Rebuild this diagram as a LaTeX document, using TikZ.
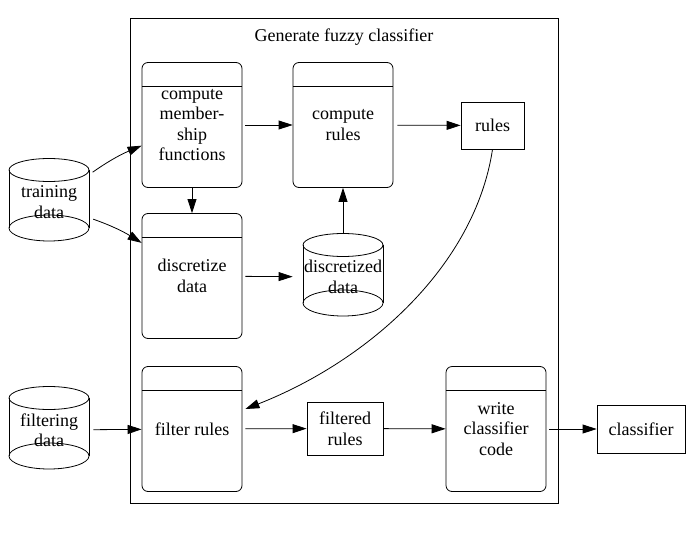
\documentclass[tikz,border=0pt]{standalone}
\usepackage{fontspec}
\setmainfont{Liberation Serif}
\usetikzlibrary{arrows.meta}

\begin{document}
\begin{tikzpicture}[x=1pt,y=-1pt,line width=0.8pt,
  font=\fontsize{18}{20.5}\selectfont,
  proc/.style={draw,rounded corners=6pt,minimum width=100pt,minimum height=125pt,
    align=center,inner sep=0pt,
    path picture={\draw ([yshift=-24pt]path picture bounding box.north west)
      -- ([yshift=-24pt]path picture bounding box.north east);}},
  datbox/.style={draw,align=center,inner sep=0pt},
  store/.style={minimum width=80pt,minimum height=70pt,align=center,inner sep=0pt},
  arr/.style={-{Triangle[length=14pt,width=9pt]}}]
  \useasboundingbox (0,0) rectangle (692,532);

  % Generate fuzzy classifier (frame)
  \draw (130,18) rectangle (558,503);
  \node (title) at (344,37) {Generate fuzzy classifier};

  % Processes
  \node[proc] (memb) at (192,125) {compute\\member-\\ship\\functions};
  \node[proc] (disc) at (192,276) {discretize\\data};
  \node[proc] (crules) at (343,125) {compute\\rules};
  \node[proc] (filter) at (192,429) {filter rules};
  \node[proc] (write) at (496,429) {write\\classifier\\code};

  % Data
  \node[datbox,minimum width=63pt,minimum height=47pt] (rules) at (492.5,125.5) {rules};
  \node[datbox,minimum width=76pt,minimum height=53pt] (fltd) at (345,428.5) {filtered\\rules};
  \node[datbox,minimum width=88pt,minimum height=48pt] (clf) at (641,429) {classifier};

  % Stores (text centre, ellipses above and below)
  \node[store] (train) at (49,202) {training\\data};
  \node[store] (dstore) at (343,277) {discretized\\data};
  \node[store] (filt) at (49,430) {filtering\\data};
  \foreach \s in {train,dstore,filt}{
    \draw ([yshift=32pt]\s.center) ellipse [x radius=40pt,y radius=11.5pt];
    \draw ([yshift=-26pt]\s.center) ellipse [x radius=40pt,y radius=13pt];
    \draw ([shift={(-40pt,32pt)}]\s.center) -- ([shift={(-40pt,-26pt)}]\s.center);
    \draw ([shift={(40pt,32pt)}]\s.center) -- ([shift={(40pt,-26pt)}]\s.center);
  }

  % Flows
  \draw[arr,shorten <=4pt] (train) to[bend left=6] (memb);
  \draw[arr,shorten <=4pt] (train) to[bend left=6] (disc);
  \draw[arr] (memb) -- (disc);
  \draw[arr,shorten <=3pt] (memb) -- (crules);
  \draw[arr,shorten <=4pt] (crules) -- (rules);
  \draw[arr,shorten <=3pt,shorten >=10pt] (disc) -- (dstore);
  \draw[arr,shorten <=2pt] (dstore.north |- 0,236) -- (crules);
  \draw[arr] (rules.south) .. controls (475,265) and (370,360) .. ([xshift=3pt,yshift=20pt]filter.east);
  \draw[arr,shorten <=4pt] (filt) -- (filter);
  \draw[arr,shorten <=3pt] (filter) -- (fltd);
  \draw[arr] (fltd) -- (write);
  \draw[arr,shorten <=3pt] (write) -- (clf);
\end{tikzpicture}
\end{document}
